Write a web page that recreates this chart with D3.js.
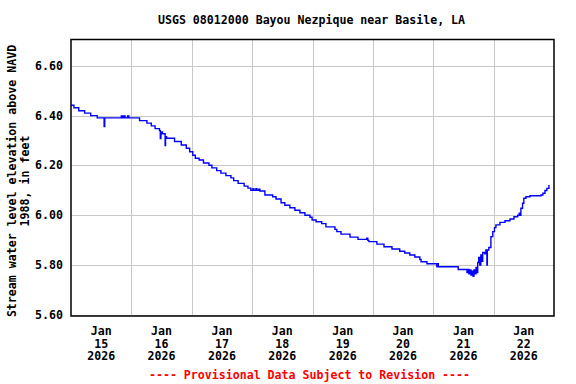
<!DOCTYPE html>
<html><head><meta charset="utf-8">
<script src="https://cdn.jsdelivr.net/npm/d3@7"></script>
<style>
html,body{margin:0;padding:0;background:#fff;}
text{font-family:"DejaVu Sans Mono",monospace;font-weight:bold;}
</style></head>
<body>
<svg id="chart" width="576" height="384"></svg>
<script>
const title = "USGS 08012000 Bayou Nezpique near Basile, LA";
const yLabelLines = ["Stream water level elevation above NAVD", "1988, in feet"];
const footer = "---- Provisional Data Subject to Revision ----";
const yTicks = [5.6, 5.8, 6.0, 6.2, 6.4, 6.6];
const xTickDays = ["2026-01-15","2026-01-16","2026-01-17","2026-01-18","2026-01-19","2026-01-20","2026-01-21","2026-01-22","2026-01-23"];
const xDomain = ["2026-01-15T00:00","2026-01-23T00:00"];
const yDomain = [5.595, 6.706];

const times = [
"2026-01-15T00:00","2026-01-15T01:10","2026-01-15T03:05","2026-01-15T05:25","2026-01-15T07:50","2026-01-15T10:25",
"2026-01-15T13:10","2026-01-15T13:25","2026-01-15T20:00","2026-01-15T20:30","2026-01-15T21:00","2026-01-15T21:30",
"2026-01-15T22:30","2026-01-15T23:00",
"2026-01-16T03:15","2026-01-16T06:10","2026-01-16T07:55","2026-01-16T09:25","2026-01-16T11:10","2026-01-16T11:30",
"2026-01-16T11:45","2026-01-16T12:20","2026-01-16T13:25","2026-01-16T13:35","2026-01-16T14:00","2026-01-16T17:10",
"2026-01-16T19:50","2026-01-16T21:50","2026-01-16T23:10",
"2026-01-17T00:25","2026-01-17T01:25","2026-01-17T02:55","2026-01-17T04:40","2026-01-17T06:50","2026-01-17T08:00",
"2026-01-17T09:55","2026-01-17T11:35","2026-01-17T13:35","2026-01-17T15:35","2026-01-17T16:40","2026-01-17T18:25",
"2026-01-17T20:50","2026-01-17T22:20","2026-01-17T23:30",
"2026-01-18T00:20","2026-01-18T00:40","2026-01-18T01:30","2026-01-18T01:55","2026-01-18T02:40","2026-01-18T03:05",
"2026-01-18T05:05","2026-01-18T08:10","2026-01-18T09:30","2026-01-18T11:30","2026-01-18T13:00","2026-01-18T15:00",
"2026-01-18T17:00","2026-01-18T19:00","2026-01-18T21:00","2026-01-18T23:00","2026-01-18T23:50",
"2026-01-19T01:25","2026-01-19T03:40","2026-01-19T05:20","2026-01-19T08:55","2026-01-19T09:40","2026-01-19T11:20",
"2026-01-19T14:55","2026-01-19T18:05","2026-01-19T21:35","2026-01-19T22:00","2026-01-19T22:25",
"2026-01-20T01:35","2026-01-20T04:25","2026-01-20T07:35","2026-01-20T10:40","2026-01-20T12:40","2026-01-20T14:40",
"2026-01-20T16:40","2026-01-20T18:40","2026-01-20T19:10","2026-01-20T21:30",
"2026-01-21T01:25","2026-01-21T01:35","2026-01-21T02:00","2026-01-21T09:55","2026-01-21T13:25","2026-01-21T13:50",
"2026-01-21T14:10","2026-01-21T14:35","2026-01-21T15:00","2026-01-21T15:25","2026-01-21T15:50","2026-01-21T16:10",
"2026-01-21T16:35","2026-01-21T17:00","2026-01-21T17:20","2026-01-21T17:40","2026-01-21T18:05","2026-01-21T18:30",
"2026-01-21T18:55","2026-01-21T19:20","2026-01-21T19:40","2026-01-21T20:30","2026-01-21T20:55","2026-01-21T21:20",
"2026-01-21T21:30","2026-01-21T22:05","2026-01-21T22:55","2026-01-21T23:40",
"2026-01-22T00:20","2026-01-22T00:55","2026-01-22T02:30","2026-01-22T04:30","2026-01-22T06:30","2026-01-22T08:05",
"2026-01-22T09:35","2026-01-22T10:10","2026-01-22T10:25","2026-01-22T10:50","2026-01-22T11:30","2026-01-22T12:00",
"2026-01-22T12:50","2026-01-22T14:25","2026-01-22T18:50","2026-01-22T19:35","2026-01-22T20:25","2026-01-22T21:10",
"2026-01-22T22:00"
];
const levels = [
6.442,6.432,6.420,6.410,6.400,6.391,
6.356,6.391,6.399,6.391,6.399,6.391,
6.399,6.391,
6.380,6.370,6.359,6.348,6.340,6.308,
6.335,6.327,6.280,6.315,6.309,6.296,
6.282,6.269,6.255,
6.241,6.229,6.222,6.210,6.201,6.190,
6.179,6.169,6.159,6.150,6.139,6.128,
6.117,6.109,6.100,
6.107,6.100,6.107,6.100,6.104,6.097,
6.081,6.074,6.065,6.050,6.040,6.030,
6.020,6.010,6.000,5.992,5.981,
5.974,5.966,5.953,5.943,5.934,5.924,
5.912,5.903,5.908,5.899,5.894,
5.884,5.873,5.864,5.855,5.848,5.840,
5.832,5.822,5.813,5.805,
5.793,5.805,5.793,5.782,5.770,5.782,
5.765,5.780,5.760,5.775,5.755,5.780,
5.765,5.790,5.770,5.810,5.830,5.800,
5.840,5.815,5.850,5.845,5.860,5.800,
5.860,5.870,5.914,5.934,
5.950,5.961,5.971,5.978,5.985,5.994,
6.000,6.008,6.000,6.028,6.048,6.068,
6.074,6.078,6.081,6.088,6.099,6.108,
6.121
];

const parse = d3.timeParse("%Y-%m-%dT%H:%M");
const parseDay = d3.timeParse("%Y-%m-%d");
const data = times.map((t, i) => ({t: parse(t), v: levels[i]}));

const svg = d3.select("#chart");
const L = 71, R = 554, T = 39.5, B = 316;
const x = d3.scaleTime().domain(xDomain.map(parse)).range([L, R]);
const y = d3.scaleLinear().domain(yDomain).range([B, T]);

// grid
svg.append("g").selectAll("line").data(yTicks).join("line")
  .attr("x1", L).attr("x2", R).attr("y1", d => Math.round(y(d)) + 0.5).attr("y2", d => Math.round(y(d)) + 0.5)
  .attr("stroke", "#c8c8c8").attr("stroke-width", 1);
const days = xTickDays.map(parseDay);
svg.append("g").selectAll("line").data(days.slice(1, -1)).join("line")
  .attr("y1", T).attr("y2", B).attr("x1", d => Math.round(x(d)) + 0.5).attr("x2", d => Math.round(x(d)) + 0.5)
  .attr("stroke", "#c8c8c8").attr("stroke-width", 1);

// data line
svg.append("path").datum(data)
  .attr("fill", "none").attr("stroke", "#0000ff").attr("stroke-width", 1.4)
  .attr("d", d3.line().x(d => x(d.t)).y(d => y(d.v)).curve(d3.curveStepAfter));

// frame
svg.append("rect").attr("x", L).attr("y", T).attr("width", R - L).attr("height", B - T)
  .attr("fill", "none").attr("stroke", "#000").attr("stroke-width", 1.5);

// y tick labels
svg.append("g").selectAll("text").data(yTicks).join("text")
  .attr("x", L - 8).attr("y", d => y(d)).attr("dy", "0.35em")
  .attr("text-anchor", "end").attr("font-size", 11.6).attr("fill", "#000")
  .text(d3.format(".2f"));

// x tick labels (at noon of each day)
const fmtM = d3.timeFormat("%b"), fmtD = d3.timeFormat("%d"), fmtY = d3.timeFormat("%Y");
const xl = svg.append("g").selectAll("text").data(days.slice(0, -1)).join("text")
  .attr("text-anchor", "middle").attr("font-size", 11.6).attr("fill", "#000")
  .attr("transform", d => `translate(${x(d3.timeHour.offset(d, 12))},0)`);
xl.append("tspan").attr("x", 0).attr("y", 335).text(d => fmtM(d));
xl.append("tspan").attr("x", 0).attr("y", 347.5).text(d => fmtD(d));
xl.append("tspan").attr("x", 0).attr("y", 360).text(d => fmtY(d));

// title
svg.append("text").attr("x", (L + R) / 2 - 1).attr("y", 24).attr("text-anchor", "middle")
  .attr("font-size", 11.6).attr("fill", "#000").text(title);

// y label
const yl = svg.append("text").attr("transform", "translate(0,181) rotate(-90)")
  .attr("text-anchor", "middle").attr("font-size", 11.6).attr("fill", "#000");
yl.append("tspan").attr("x", 0).attr("y", 16).text(yLabelLines[0]);
yl.append("tspan").attr("x", 0).attr("y", 28.5).text(yLabelLines[1]);

// footer
svg.append("text").attr("x", (L + R) / 2 - 3).attr("y", 379).attr("text-anchor", "middle")
  .attr("font-size", 11.6).attr("fill", "#ff0000").text(footer);
</script>
</body></html>
